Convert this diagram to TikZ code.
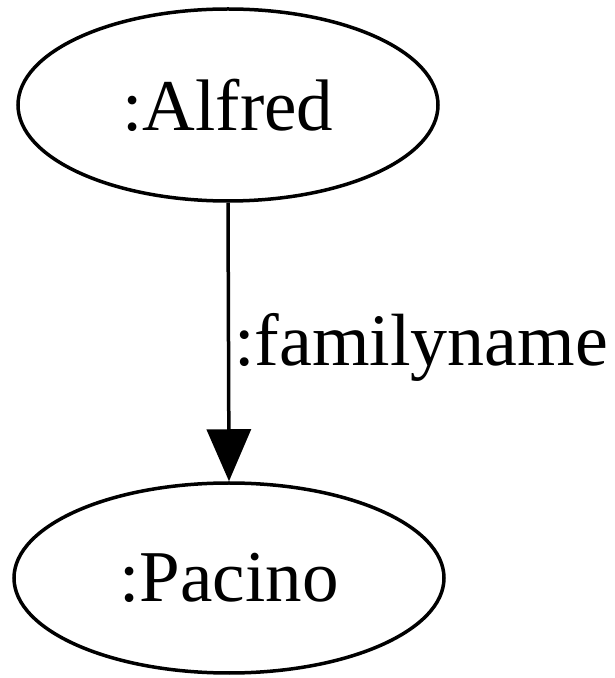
\documentclass[tikz,border=0pt]{standalone}
\usepackage{fontspec}
\setmainfont{Liberation Serif}
\usetikzlibrary{shapes.geometric,arrows.meta}
\begin{document}
\begin{tikzpicture}[x=1pt,y=1pt,
  ent/.style={draw=black,line width=3.5pt,ellipse,inner sep=0pt,font=\fontsize{73}{80}\selectfont},
  rel/.style={draw=black,line width=3.5pt,-{Triangle[length=52pt,width=44pt]}},
  lab/.style={font=\fontsize{74}{80}\selectfont,inner sep=0pt}]
\useasboundingbox (0,0) rectangle (615,678);
\node[ent,minimum width=420pt,minimum height=192pt] (alfred) at (228,573) {:Alfred};
\node[ent,minimum width=430pt,minimum height=190pt] (pacino) at (229,100) {:Pacino};
\draw[rel] (alfred.south) -- (pacino.north);
\node[lab,anchor=base west] (fam) at (234,312) {:familyname};
\end{tikzpicture}
\end{document}
